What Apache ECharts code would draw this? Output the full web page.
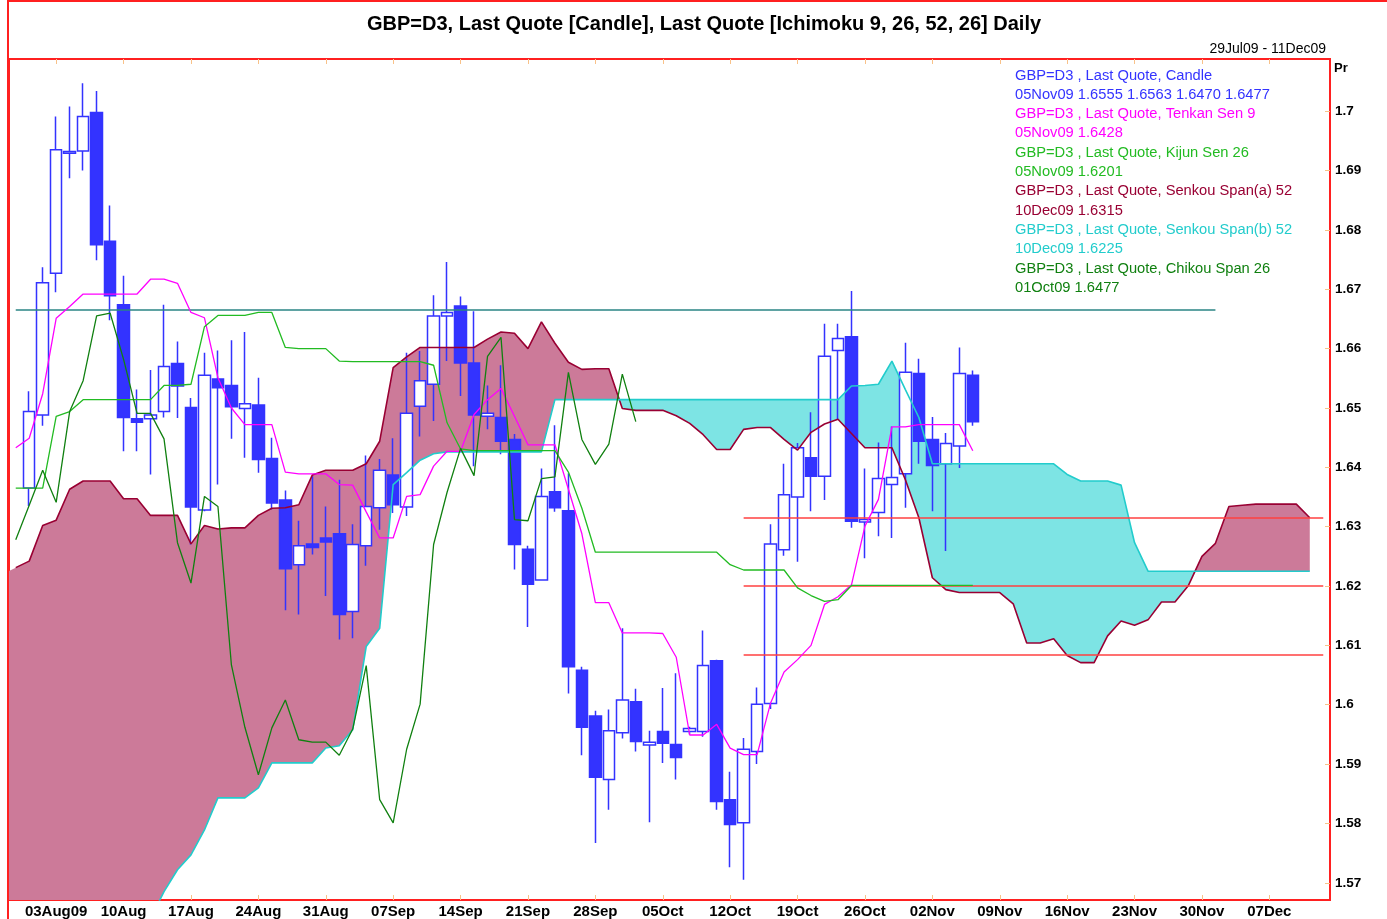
<!DOCTYPE html>
<html>
<head>
<meta charset="utf-8">
<title>GBP=D3 Ichimoku</title>
<script src="https://cdn.jsdelivr.net/npm/echarts@6/dist/echarts.min.js"></script>
<style>
html,body{margin:0;padding:0;background:#fff;}
#main{width:1387px;height:919px;}
</style>
</head>
<body>
<div id="main"></div>
<script>
var categories = [
  '29Jul09','30Jul09','31Jul09',
  '03Aug09','04Aug09','05Aug09','06Aug09','07Aug09',
  '10Aug09','11Aug09','12Aug09','13Aug09','14Aug09',
  '17Aug09','18Aug09','19Aug09','20Aug09','21Aug09',
  '24Aug09','25Aug09','26Aug09','27Aug09','28Aug09',
  '31Aug09','01Sep09','02Sep09','03Sep09','04Sep09',
  '07Sep09','08Sep09','09Sep09','10Sep09','11Sep09',
  '14Sep09','15Sep09','16Sep09','17Sep09','18Sep09',
  '21Sep09','22Sep09','23Sep09','24Sep09','25Sep09',
  '28Sep09','29Sep09','30Sep09','01Oct09','02Oct09',
  '05Oct09','06Oct09','07Oct09','08Oct09','09Oct09',
  '12Oct09','13Oct09','14Oct09','15Oct09','16Oct09',
  '19Oct09','20Oct09','21Oct09','22Oct09','23Oct09',
  '26Oct09','27Oct09','28Oct09','29Oct09','30Oct09',
  '02Nov09','03Nov09','04Nov09','05Nov09','06Nov09',
  '09Nov09','10Nov09','11Nov09','12Nov09','13Nov09',
  '16Nov09','17Nov09','18Nov09','19Nov09','20Nov09',
  '23Nov09','24Nov09','25Nov09','26Nov09','27Nov09',
  '30Nov09','01Dec09','02Dec09','03Dec09','04Dec09',
  '07Dec09','08Dec09','09Dec09','10Dec09','11Dec09'
];

var tickLabels = {
  '03Aug09':'03Aug09','10Aug09':'10Aug','17Aug09':'17Aug','24Aug09':'24Aug','31Aug09':'31Aug',
  '07Sep09':'07Sep','14Sep09':'14Sep','21Sep09':'21Sep','28Sep09':'28Sep','05Oct09':'05Oct',
  '12Oct09':'12Oct','19Oct09':'19Oct','26Oct09':'26Oct','02Nov09':'02Nov','09Nov09':'09Nov',
  '16Nov09':'16Nov','23Nov09':'23Nov','30Nov09':'30Nov','07Dec09':'07Dec'
};

var yTicks = [1.57,1.58,1.59,1.60,1.61,1.62,1.63,1.64,1.65,1.66,1.67,1.68,1.69,1.70];

// open, high, low, close
var candles = [
  null,
  [1.6365,1.6528,1.6335,1.6494],[1.6488,1.6737,1.6470,1.6711],[1.6727,1.6991,1.6695,1.6935],
  [1.6929,1.7008,1.6887,1.6932],[1.6933,1.7047,1.6900,1.6991],[1.6998,1.7034,1.6749,1.6775],
  [1.6781,1.6841,1.6648,1.6689],[1.6674,1.6723,1.6427,1.6484],[1.6482,1.6531,1.6427,1.6476],
  [1.6482,1.6564,1.6388,1.6488],[1.6494,1.6674,1.6484,1.6570],[1.6575,1.6612,1.6483,1.6537],
  [1.6501,1.6517,1.6270,1.6333],[1.6328,1.6593,1.6326,1.6555],[1.6549,1.6597,1.6371,1.6534],
  [1.6538,1.6614,1.6448,1.6502],[1.6499,1.6628,1.6416,1.6507],[1.6505,1.6551,1.6391,1.6413],
  [1.6415,1.6450,1.6329,1.6340],[1.6345,1.6361,1.6159,1.6229],[1.6236,1.6310,1.6152,1.6268],
  [1.6271,1.6385,1.6253,1.6265],[1.6281,1.6334,1.6183,1.6274],[1.6288,1.6379,1.6110,1.6152],
  [1.6157,1.6304,1.6112,1.6270],[1.6268,1.6420,1.6234,1.6334],[1.6332,1.6414,1.6295,1.6395],
  [1.6387,1.6449,1.6323,1.6337],[1.6333,1.6593,1.6318,1.6491],[1.6503,1.6596,1.6452,1.6546],
  [1.6540,1.6690,1.6478,1.6655],[1.6655,1.6746,1.6579,1.6661],[1.6672,1.6688,1.6520,1.6576],
  [1.6576,1.6663,1.6402,1.6488],[1.6486,1.6538,1.6464,1.6491],[1.6484,1.6572,1.6422,1.6444],
  [1.6447,1.6456,1.6228,1.6270],[1.6262,1.6268,1.6131,1.6203],[1.6210,1.6398,1.6209,1.6351],
  [1.6359,1.6471,1.6325,1.6332],[1.6327,1.6390,1.6019,1.6064],[1.6058,1.6064,1.5915,1.5962],
  [1.5981,1.5990,1.5767,1.5878],[1.5874,1.5992,1.5823,1.5956],[1.5953,1.6129,1.5943,1.6008],
  [1.6005,1.6027,1.5921,1.5938],[1.5932,1.5956,1.5802,1.5937],[1.5955,1.6028,1.5902,1.5935],
  [1.5933,1.6053,1.5874,1.5911],[1.5955,1.5963,1.5950,1.5960],[1.5955,1.6125,1.5946,1.6066],
  [1.6074,1.6076,1.5823,1.5837],[1.5840,1.5887,1.5726,1.5798],[1.5801,1.5944,1.5705,1.5925],
  [1.5921,1.6029,1.5900,1.6001],[1.6002,1.6304,1.5993,1.6271],[1.6261,1.6406,1.6251,1.6354],
  [1.6350,1.6441,1.6241,1.6433],[1.6416,1.6493,1.6326,1.6385],[1.6385,1.6642,1.6345,1.6587],
  [1.6597,1.6642,1.6481,1.6617],[1.6620,1.6697,1.6298,1.6309],[1.6308,1.6398,1.6247,1.6312],
  [1.6324,1.6442,1.6284,1.6381],[1.6371,1.6469,1.6281,1.6383],[1.6389,1.6610,1.6332,1.6560],
  [1.6558,1.6583,1.6406,1.6444],[1.6447,1.6485,1.6326,1.6403],[1.6406,1.6458,1.6259,1.6440],
  [1.6436,1.6602,1.6399,1.6558],[1.6555,1.6563,1.6470,1.6477]
];

var tenkan = [
  1.6433,1.6449,1.6524,1.6651,1.6671,1.6692,1.6692,1.6692,1.6692,1.6692,
  1.6717,1.6717,1.6710,1.6661,1.6652,1.6551,1.6500,1.6472,1.6472,1.6472,
  1.6392,1.6389,1.6389,1.6389,1.6371,1.6370,1.6325,1.6281,1.6281,1.6351,
  1.6354,1.6402,1.6427,1.6427,1.6489,1.6514,1.6533,1.6486,1.6438,1.6438,
  1.6438,1.6363,1.6288,1.6172,1.6172,1.6121,1.6121,1.6121,1.6120,1.6080,
  1.5949,1.5949,1.5967,1.5927,1.5916,1.5916,1.6003,1.6055,1.6076,1.6100,
  1.6169,1.6182,1.6202,1.6301,1.6346,1.6468,1.6468,1.6472,1.6472,1.6472,
  1.6472,1.6428
];

var kijun = [
  1.6365,1.6365,1.6365,1.6486,1.6494,1.6514,1.6514,1.6514,1.6514,1.6514,
  1.6514,1.6538,1.6538,1.6540,1.6637,1.6656,1.6656,1.6656,1.6661,1.6661,
  1.6602,1.6600,1.6600,1.6600,1.6579,1.6578,1.6578,1.6578,1.6578,1.6578,
  1.6578,1.6572,1.6475,1.6431,1.6428,1.6428,1.6428,1.6428,1.6428,1.6428,
  1.6428,1.6392,1.6331,1.6257,1.6257,1.6257,1.6257,1.6257,1.6257,1.6257,
  1.6257,1.6257,1.6257,1.6236,1.6227,1.6227,1.6227,1.6227,1.6197,1.6184,
  1.6174,1.6177,1.6201,1.6201,1.6201,1.6201,1.6201,1.6201,1.6201,1.6201,
  1.6201,1.6201
];

var senkouA = [
  1.6231,1.6242,1.6302,1.6311,1.6363,1.6377,1.6377,1.6377,1.6347,1.6347,
  1.6319,1.6319,1.6319,1.6271,1.6302,1.6296,1.6298,1.6298,1.6319,1.6331,
  1.6332,1.6337,1.6387,1.6395,1.6395,1.6395,1.6406,1.6444,1.6568,1.6586,
  1.6602,1.6602,1.6602,1.6602,1.6602,1.6616,1.6628,1.6626,1.6600,1.6645,
  1.6609,1.6577,1.6565,1.6566,1.6566,1.6499,1.6496,1.6496,1.6496,1.6487,
  1.6474,1.6455,1.6430,1.6430,1.6464,1.6467,1.6467,1.6447,1.6429,1.6459,
  1.6473,1.6481,1.6457,1.6433,1.6433,1.6433,1.6379,1.6315,1.6214,1.6194,
  1.6189,1.6189,1.6189,1.6189,1.6170,1.6104,1.6104,1.6111,1.6083,1.6071,
  1.6071,1.6116,1.6141,1.6134,1.6143,1.6173,1.6173,1.6201,1.6250,1.6272,
  1.6334,1.6336,1.6338,1.6338,1.6338,1.6338,1.6315
];

var senkouB = [
  1.5640,1.5640,1.5640,1.5640,1.5640,1.5640,1.5640,1.5640,1.5640,1.5640,
  1.5640,1.5685,1.5722,1.5747,1.5789,1.5843,1.5843,1.5843,1.5860,1.5902,
  1.5902,1.5902,1.5902,1.5927,1.5931,1.5958,1.6098,1.6129,1.6371,1.6391,
  1.6412,1.6423,1.6426,1.6426,1.6426,1.6426,1.6426,1.6426,1.6426,1.6426,
  1.6514,1.6514,1.6514,1.6514,1.6514,1.6514,1.6514,1.6514,1.6514,1.6514,
  1.6514,1.6514,1.6514,1.6514,1.6514,1.6514,1.6514,1.6514,1.6514,1.6514,
  1.6514,1.6514,1.6537,1.6538,1.6540,1.6579,1.6531,1.6484,1.6406,1.6406,
  1.6406,1.6406,1.6406,1.6406,1.6406,1.6406,1.6406,1.6406,1.6388,1.6377,
  1.6377,1.6377,1.6370,1.6273,1.6225,1.6225,1.6225,1.6225,1.6225,1.6225,
  1.6225,1.6225,1.6225,1.6225,1.6225,1.6225,1.6225
];

var chikou = [
  1.6278,1.6336,1.6395,1.6341,1.6494,1.6546,1.6655,1.6660,1.6582,1.6491,
  1.6491,1.6448,1.6273,1.6205,1.6351,1.6334,1.6067,1.5962,1.5882,1.5961,
  1.6008,1.5941,1.5937,1.5937,1.5915,1.5959,1.6066,1.5840,1.5801,1.5925,
  1.6001,1.6270,1.6358,1.6432,1.6386,1.6587,1.6619,1.6312,1.6310,1.6381,
  1.6384,1.6560,1.6447,1.6405,1.6439,1.6557,1.6477
];

var tealLevel = 1.6665;
var redLevels = [1.6315, 1.6201, 1.6085];

var C_BLUE = '#3333ff', C_TENKAN = '#ff00ff', C_KIJUN = '#22bb22',
    C_SA = '#990033', C_SB = '#22cccc', C_CHIKOU = '#108010',
    C_PINK = '#cc7a99', C_CYAN = '#7de4e4';
var FONT = '"Liberation Sans", Arial, sans-serif';

var candleData = candles.map(function (c) {
  return c ? [c[0], c[3], c[2], c[1]] : '-';
});

// one polygon per run where span A stays on the same side of span B
function renderCloud(params, api) {
  var kids = [];
  var pathA = [], pathB = [], sign = null;
  function flush() {
    if (pathA.length > 1) {
      var col = sign > 0 ? C_PINK : C_CYAN;
      kids.push({type: 'polygon', shape: {points: pathA.concat(pathB.slice().reverse())},
                 style: {fill: col}});
    }
  }
  for (var i = 0; i < senkouA.length; i++) {
    var a = api.coord([i, senkouA[i]]), b = api.coord([i, senkouB[i]]);
    var d = senkouA[i] - senkouB[i];
    var s = d >= 0 ? 1 : -1;
    if (sign === null) {
      // carry the first segment back to the left edge of the plot
      var a1 = api.coord([1, senkouA[1]]), b1 = api.coord([1, senkouB[1]]);
      var half = (a1[0] - a[0]) / 2;
      pathA.push([a[0] - half, a[1] - (a1[1] - a[1]) / 2]);
      pathB.push([b[0] - half, b[1] - (b1[1] - b[1]) / 2]);
      sign = s; pathA.push(a); pathB.push(b); continue;
    }
    if (s !== sign && d !== 0) {
      var pa = pathA[pathA.length - 1];
      var dPrev = senkouA[i - 1] - senkouB[i - 1];
      var t = dPrev / (dPrev - d);
      var c = [pa[0] + t * (a[0] - pa[0]), pa[1] + t * (a[1] - pa[1])];
      pathA.push(c); pathB.push(c);
      flush();
      pathA = [c, a]; pathB = [c, b]; sign = s;
    } else {
      pathA.push(a); pathB.push(b);
    }
  }
  flush();
  return {type: 'group', children: kids};
}

var fmt = function (v) { return v.toFixed(4); };
var lc = candles[candles.length - 1];
var legendRows = [
  ['GBP=D3 , Last Quote, Candle', C_BLUE],
  [categories[candles.length - 1] + ' ' + fmt(lc[0]) + ' ' + fmt(lc[1]) + ' ' + fmt(lc[2]) + ' ' + fmt(lc[3]), C_BLUE],
  ['GBP=D3 , Last Quote, Tenkan Sen 9', C_TENKAN],
  [categories[tenkan.length - 1] + ' ' + fmt(tenkan[tenkan.length - 1]), C_TENKAN],
  ['GBP=D3 , Last Quote, Kijun Sen 26', C_KIJUN],
  [categories[kijun.length - 1] + ' ' + fmt(kijun[kijun.length - 1]), C_KIJUN],
  ['GBP=D3 , Last Quote, Senkou Span(a) 52', C_SA],
  [categories[senkouA.length - 1] + ' ' + fmt(senkouA[senkouA.length - 1]), C_SA],
  ['GBP=D3 , Last Quote, Senkou Span(b) 52', C_SB],
  [categories[senkouB.length - 1] + ' ' + fmt(senkouB[senkouB.length - 1]), C_SB],
  ['GBP=D3 , Last Quote, Chikou Span 26', C_CHIKOU],
  [categories[chikou.length - 1] + ' ' + fmt(chikou[chikou.length - 1]), C_CHIKOU]
];

var graphics = [
  {type: 'polyline', shape: {points: [[8, 919], [8, 1], [1387, 1]]}, style: {stroke: '#ff2020', lineWidth: 2, fill: null}, z: 10},
  {type: 'text', x: 1334, y: 62, style: {text: 'Pr', font: 'bold 13px ' + FONT, fill: '#000'}, z: 10}
];
legendRows.forEach(function (r, k) {
  graphics.push({
    type: 'text', x: 1015, y: 75.5 + k * 19.3, z: 10,
    style: {text: r[0], fill: r[1], font: '14.7px ' + FONT, textVerticalAlign: 'middle'}
  });
});

var showTick = function (idx, val) { return tickLabels.hasOwnProperty(val); };
var tickStyle = {show: true, inside: true, length: 5, alignWithLabel: true, interval: showTick, lineStyle: {color: '#f8c28a', width: 1}};

var option = {
  animation: false,
  backgroundColor: '#fff',
  title: [
    {text: 'GBP=D3, Last Quote [Candle], Last Quote [Ichimoku 9, 26, 52, 26] Daily', left: 362, top: 9,
     textStyle: {fontSize: 20, fontWeight: 'bold', color: '#000', fontFamily: FONT}},
    {text: '29Jul09 - 11Dec09', right: 56, top: 37,
     textStyle: {fontSize: 14, fontWeight: 'normal', color: '#000', fontFamily: FONT}}
  ],
  grid: {left: 9, right: 57, top: 59, bottom: 19, show: true, borderColor: '#ff2020', borderWidth: 2, backgroundColor: '#fff'},
  xAxis: [
    {type: 'category', data: categories, boundaryGap: true, position: 'bottom',
     axisLine: {show: false}, axisTick: tickStyle, splitLine: {show: false},
     axisLabel: {interval: showTick, hideOverlap: false, margin: 4,
       formatter: function (v) { return tickLabels[v] || ''; },
       fontSize: 15, fontWeight: 'bold', color: '#000', fontFamily: FONT}},
    {type: 'category', data: categories, boundaryGap: true, position: 'top',
     axisLine: {show: false}, axisTick: tickStyle, axisLabel: {show: false}, splitLine: {show: false}}
  ],
  yAxis: {
    type: 'value', position: 'right', min: 1.5671, max: 1.7088,
    axisLine: {show: false}, splitLine: {show: false},
    axisTick: {show: true, inside: true, length: 5, customValues: yTicks, lineStyle: {color: '#f8c28a'}},
    axisLabel: {customValues: yTicks, margin: 5, fontSize: 13.5, fontWeight: 'bold', color: '#000',
      fontFamily: FONT,
      formatter: function (v) { return String(parseFloat(v.toFixed(2))); }}
  },
  graphic: graphics,
  series: [
    {name: 'Cloud', type: 'custom', renderItem: renderCloud, data: [[0, senkouA[0]]], clip: true, silent: true,
     encode: {x: 0, y: 1}, z: 1},
    {name: 'Candle', type: 'candlestick', data: candleData, barWidth: 12, z: 3,
     itemStyle: {color: '#ffffff', color0: C_BLUE, borderColor: C_BLUE, borderColor0: C_BLUE, borderWidth: 1.5}},
    {name: 'Senkou Span(a)', type: 'line', data: senkouA, symbol: 'none', z: 4,
     lineStyle: {color: C_SA, width: 1.6}},
    {name: 'Senkou Span(b)', type: 'line', data: senkouB, symbol: 'none', z: 4,
     lineStyle: {color: C_SB, width: 1.6}},
    {name: 'Tenkan Sen', type: 'line', data: tenkan, symbol: 'none', z: 5,
     lineStyle: {color: C_TENKAN, width: 1.3}},
    {name: 'Kijun Sen', type: 'line', data: kijun, symbol: 'none', z: 5,
     lineStyle: {color: C_KIJUN, width: 1.3}},
    {name: 'Chikou Span', type: 'line', data: chikou, symbol: 'none', z: 5,
     lineStyle: {color: C_CHIKOU, width: 1.3}},
    {name: 'Levels', type: 'line', data: [], symbol: 'none', z: 6,
     markLine: {silent: true, symbol: 'none', label: {show: false},
       data: [
         [{coord: [categories[0], tealLevel], lineStyle: {color: '#2a8585', width: 1.5, type: 'solid'}}, {coord: [categories[89], tealLevel]}]
       ].concat(redLevels.map(function (v) {
         return [{coord: [categories[54], v], lineStyle: {color: '#ff4040', width: 1.5, type: 'solid'}}, {coord: [categories[97], v]}];
       }))}}
  ]
};

var chart = echarts.init(document.getElementById('main'));
chart.setOption(option);
</script>
</body>
</html>
